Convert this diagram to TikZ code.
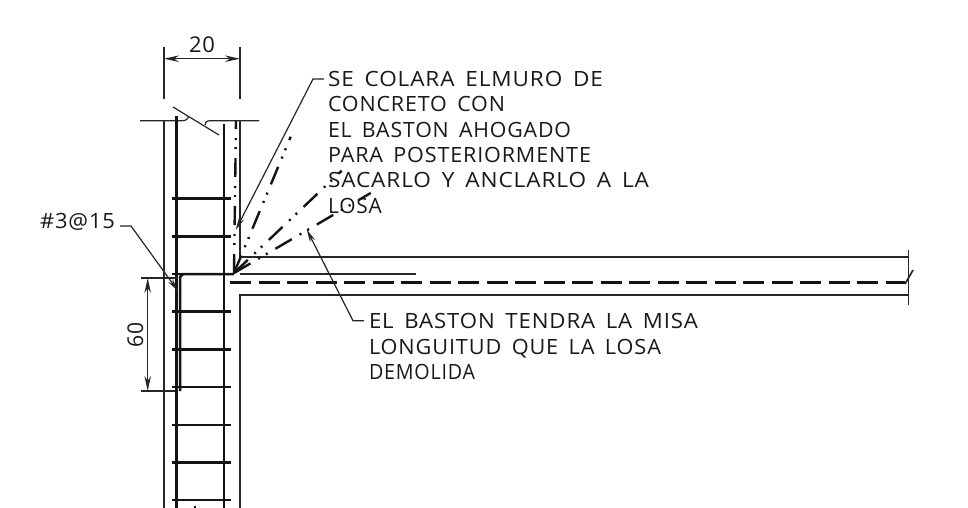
\documentclass[tikz,border=0pt]{standalone}
\usepackage{fontspec}
\usepackage{graphicx}
\setmainfont{Open Sans}[LetterSpace=4,WordSpace=1.6]
\usetikzlibrary{arrows.meta}
\newcommand{\fitted}[3]{%
  \setbox0=\hbox{#3}\setbox2=\hbox{H}%
  \pgfmathsetmacro{\fitx}{#1/\the\wd0}%
  \pgfmathsetmacro{\fity}{#2/\the\ht2}%
  \scalebox{\fitx}[\fity]{\box0}}
\tikzset{
  thinline/.style={line width=1.2pt,black!85},
  midline/.style={line width=1.7pt,black!85},
  barline/.style={line width=2.5pt,black!92},
  dimline/.style={line width=1.2pt,black!85,{Stealth[length=15pt,width=6.5pt]}-{Stealth[length=15pt,width=6.5pt]}},
  leader/.style={line width=1.2pt,black!85,-{Stealth[length=13pt,width=5.5pt]}},
  phantom/.style={line width=2.4pt,black!92,dash pattern=on 19pt off 9pt on 2pt off 7pt on 2pt off 9pt},
  slabdash/.style={line width=2.5pt,black!92,dash pattern=on 21pt off 7.5pt},
  note/.style={anchor=base west,inner sep=0pt,outer sep=0pt,black!90},
}
\begin{document}
\begin{tikzpicture}[x=1pt,y=-1pt]
\path[use as bounding box,fill=white] (0,0) rectangle (968,508);
% walls
\draw[thinline] (164,121) -- (164,508);
\draw[thinline] (240,121) -- (240,257) -- (908.5,257);
\draw[midline] (908.5,295) -- (240,295) -- (240,508);
\draw[thinline] (240,274) -- (416,274);
% top break line
\draw[thinline] (140,120.7) -- (182,120.7) .. controls (186,120.7) and (188,119) .. (188.5,117);
\draw[thinline] (259,120.7) -- (210,120.7) .. controls (206.5,120.7) and (205,122.5) .. (205,125);
\draw[thinline] (173,107) -- (219,135);
% right break line
\draw[thinline] (908.5,250) -- (908.5,305);
\draw[midline] (905,284) -- (913,270);
% rebar
\draw[barline] (176.5,116) -- (176.5,508);
\draw[barline] (224,124) -- (224,508);
\foreach \yy in {198.7,236.3,274,311.7,349.5,387,424.8,462.5,500.2}
  \draw[barline] (172,\yy) -- (231,\yy);
\draw[barline] (180,391) -- (180,277) -- (183,274) -- (234,274);
\draw[barline] (195,506) -- (195,508);
% slab bar
\draw[slabdash] (230,282.7) -- (905,282.7);
% rotating bars
\coordinate (tip) at (234,273);
\coordinate (rayA) at (236,121);
\coordinate (rayB) at (290.7,136.7);
\coordinate (rayC) at (341.7,170.7);
\coordinate (rayD) at (370.7,193);
\foreach \rr in {rayA,rayB,rayC,rayD}
  \draw[phantom] (tip) -- (\rr);
% dimension 20
\draw[thinline] (164,47) -- (164,99);
\draw[thinline] (240,47) -- (240,99);
\draw[thinline] (141,278) -- (178,278);
\draw[thinline] (141,391) -- (175,391);
\coordinate (d20a) at (164,58.7);
\coordinate (d20b) at (240,58.7);
\coordinate (d60a) at (147.7,278);
\coordinate (d60b) at (147.7,391);
\draw[dimline] (d20a) -- (d20b);
\draw[dimline] (d60a) -- (d60b);
\node[note] (n20) at (189,52.5) {\fitted{26}{15.5}{20}};
\node[note,rotate=90,anchor=base] (n60) at (143,334.5) {\fitted{25}{15.5}{60}};
% notes
\node[note] (tA) at (328,86.7) {\fitted{275}{15}{SE COLARA ELMURO DE}};
\node[note] (tB) at (328,111.7) {\fitted{177}{15}{CONCRETO CON}};
\node[note] (tC) at (328,137) {\fitted{243}{15}{EL BASTON AHOGADO}};
\node[note] (tD) at (328,162) {\fitted{263}{15}{PARA POSTERIORMENTE}};
\node[note] (tE) at (328,187) {\fitted{321}{15}{SACARLO Y ANCLARLO A LA}};
\node[note] (tF) at (328,213) {\fitted{54}{15}{LOSA}};
\node[note] (tG) at (369,328.5) {\fitted{329}{15}{EL BASTON TENDRA LA MISA}};
\node[note] (tH) at (369,354) {\fitted{292}{15}{LONGUITUD QUE LA LOSA}};
\node[note] (tI) at (369,379) {\fitted{106}{15}{DEMOLIDA}};
\node[note] (tJ) at (40,228.5) {\fitted{75}{15}{\#3@15}};
% leaders
\coordinate (lA0) at (324,79);
\coordinate (lA1) at (313,79);
\coordinate (lA2) at (235.7,230);
\coordinate (lB0) at (364,320.7);
\coordinate (lB1) at (353,320.7);
\coordinate (lB2) at (306.7,229.5);
\coordinate (lC0) at (120,226);
\coordinate (lC1) at (131,226);
\coordinate (lC2) at (178,291);
\draw[leader] (lA0) -- (lA1) -- (lA2);
\draw[leader] (lB0) -- (lB1) -- (lB2);
\draw[leader] (lC0) -- (lC1) -- (lC2);
\end{tikzpicture}
\end{document}
